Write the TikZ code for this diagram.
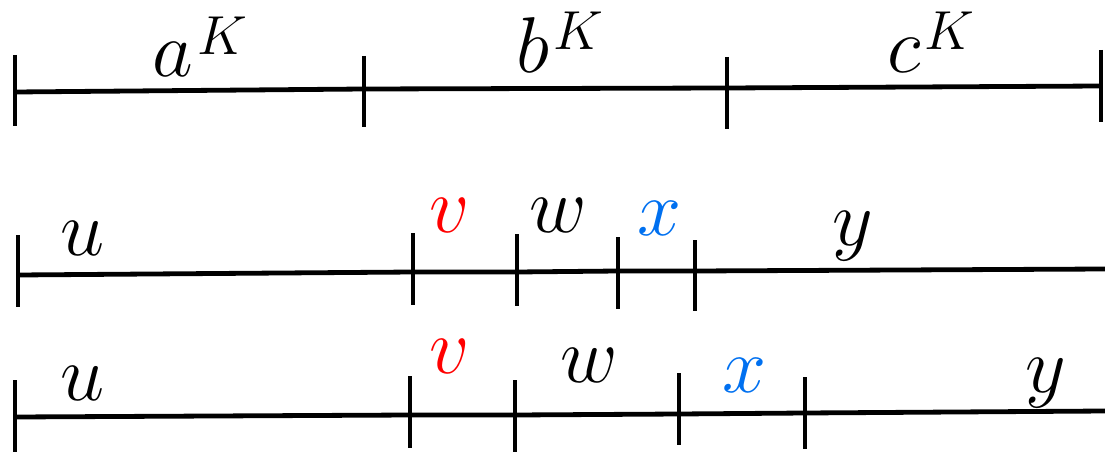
\documentclass[tikz,border=0pt]{standalone}
\usetikzlibrary{calc}
\definecolor{vred}{RGB}{255,0,0}
\definecolor{xblue}{RGB}{0,112,240}
\newcommand{\supK}[1]{$#1$\hspace{1.2pt}\raisebox{7pt}{\fontsize{17.28}{20}\selectfont$K$}}
\begin{document}
\begin{tikzpicture}[x=1pt,y=-1pt,line width=4.8pt,
  lbl/.style={font=\Huge,scale=3.18,inner sep=0pt,anchor=base},
  tickline/.style={line width=4.8pt}]
\useasboundingbox (0,0) rectangle (1105,452);
% ---------- top row ----------
\coordinate (t0) at (15,92);
\coordinate (t1) at (364,89);
\coordinate (t2) at (727,88);
\coordinate (t3) at (1101,86);
\draw (t0) -- (t1) -- (t2) -- (t3);
\draw[tickline] (15,55) -- (15,126);
\draw[tickline] (364,56) -- (364,127);
\draw[tickline] (727,57) -- (727,129);
\draw[tickline] (1101,50) -- (1101,122);
\node[lbl] (aK) at (200,77) {\supK{a}};
\node[lbl] (bK) at (560,72) {\supK{b}};
\node[lbl] (cK) at (931,72) {\supK{c}};
% ---------- middle row ----------
\coordinate (m0) at (18,275);
\coordinate (m1) at (413,272);
\coordinate (m2) at (517,272);
\coordinate (m3) at (618,271);
\coordinate (m4) at (695,271);
\coordinate (m5) at (1105,269);
\draw (m0) -- (m1) -- (m2) -- (m3) -- (m4) -- (m5);
\draw[tickline] (18,235) -- (18,307);
\draw[tickline] (413,233) -- (413,305);
\draw[tickline] (517,234) -- (517,306);
\draw[tickline] (618,237) -- (618,309);
\draw[tickline] (695,240) -- (695,311);
\node[lbl] (u1) at (83,255) {$u$};
\node[lbl,text=vred] (v1) at (450,232) {$v$};
\node[lbl] (w1) at (558,232) {$w$};
\node[lbl,text=xblue] (x1) at (660,235) {$x$};
\node[lbl] (y1) at (853,245) {$y$};
% ---------- bottom row ----------
\coordinate (b0) at (15,417);
\coordinate (b1) at (410,415);
\coordinate (b2) at (515,415);
\coordinate (b3) at (679,414);
\coordinate (b4) at (805,413);
\coordinate (b5) at (1105,411);
\draw (b0) -- (b1) -- (b2) -- (b3) -- (b4) -- (b5);
\draw[tickline] (15,380) -- (15,452);
\draw[tickline] (410,376) -- (410,448);
\draw[tickline] (515,380) -- (515,452);
\draw[tickline] (679,373) -- (679,445);
\draw[tickline] (805,377) -- (805,449);
\node[lbl] (u2) at (83,400) {$u$};
\node[lbl,text=vred] (v2) at (450,373) {$v$};
\node[lbl] (w2) at (589,382) {$w$};
\node[lbl,text=xblue] (x2) at (745,392) {$x$};
\node[lbl] (y2) at (1046,392) {$y$};
\end{tikzpicture}
\end{document}
